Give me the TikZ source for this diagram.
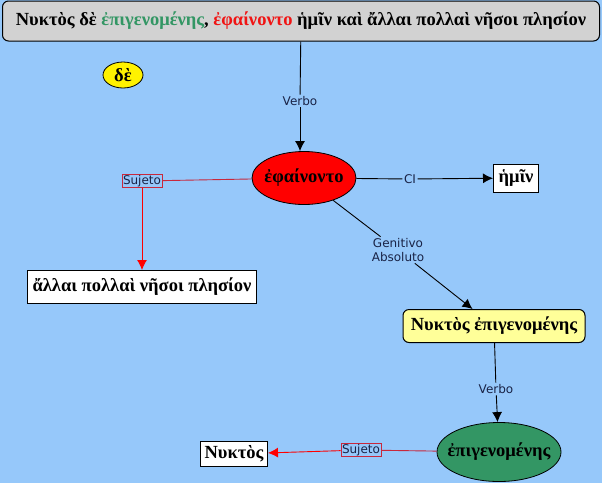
\documentclass[tikz,border=0pt]{standalone}
\usepackage{fontspec}
\setmainfont{Liberation Serif}
\newfontfamily\linkfont{DejaVu Sans}
\usetikzlibrary{arrows.meta,shapes.geometric}

\definecolor{mapblue}{RGB}{150,200,250}
\definecolor{mapgrey}{RGB}{210,210,210}
\definecolor{mapgreen}{RGB}{51,150,100}
\definecolor{mapred}{RGB}{240,20,20}
\definecolor{mapyellow}{RGB}{255,255,153}
\definecolor{linkred}{RGB}{200,40,60}
\definecolor{linkink}{RGB}{25,35,70}

\tikzset{
  greek/.style={font=\fontsize{18.5}{22}\selectfont\bfseries, inner sep=0pt, line width=1pt},
  wordbox/.style={greek, draw, fill=white},
  % negative x-sep, so that minimum width alone fixes the ellipse size
  bubble/.style={greek, ellipse, draw, line width=0.8pt, inner xsep=-14pt},
  linklabel/.style={font=\linkfont\fontsize{12}{14}\selectfont, text=linkink,
                    fill=mapblue, inner sep=1.5pt, align=center},
  sujlabel/.style={linklabel, draw=linkred, line width=0.8pt, inner sep=1pt},
  link/.style={line width=0.9pt},
  arrowlink/.style={link, -{Latex[length=10pt,width=10pt]}},
}

\begin{document}
\begin{tikzpicture}[x=1pt, y=-1pt]

% ============================================================ background
\fill[mapblue] (0,0) rectangle (602,483);
\useasboundingbox (0,0) rectangle (602,483);

% ============================================================ the sentence
\node[greek, draw, fill=mapgrey, rounded corners=6pt,
      minimum width=597pt, minimum height=40pt] (sent) at (301,21)
  {Νυκτὸς δὲ \textcolor{mapgreen}{ἐπιγενομένης}, \textcolor{mapred}{ἐφαίνοντο}
   ἡμῖν καὶ ἄλλαι πολλαὶ νῆσοι πλησίον};

\node[bubble, fill=yellow, minimum width=40pt, minimum height=26pt] (de)
  at (123,75) {δὲ};

% ============================================================ main verb
\node[bubble, fill=red, minimum width=104pt, minimum height=53pt] (ephain)
  at (304,178) {ἐφαίνοντο};

\node[linklabel] (verbo1) at (300,101) {Verbo};
\draw[link] (sent) -- (verbo1);
\draw[arrowlink] (verbo1) -- (verbo1 |- ephain.north);

% subject, to the left
\node[sujlabel] (suj1) at (142,181) {Sujeto};
\node[wordbox, minimum width=229pt, minimum height=33pt] (allai)
  at (142,287) {ἄλλαι πολλαὶ νῆσοι πλησίον};
\draw[link, linkred] (ephain) -- (suj1);
\draw[arrowlink, red] (suj1) -- (allai);

% indirect object, to the right
\node[linklabel] (ci) at (410,179) {CI};
\node[wordbox, minimum width=45pt, minimum height=28pt] (hemin)
  at (516,178) {ἡμῖν};
\draw[link] (ephain) -- (ci);
\draw[arrowlink] (ci) -- (hemin);

% ============================================================ genitive absolute
\node[linklabel] (gen) at (398,250) {Genitivo\\Absoluto};
\node[greek, draw, fill=mapyellow, rounded corners=6pt,
      minimum width=182pt, minimum height=33pt] (nyktepi)
  at (494,326) {Νυκτὸς ἐπιγενομένης};
\draw[link] (ephain) -- (gen);
\draw[arrowlink] (gen) -- (nyktepi);

\node[linklabel] (verbo2) at (496,389) {Verbo};
\node[bubble, fill=mapgreen, minimum width=124pt, minimum height=59pt] (epig)
  at (499,452) {ἐπιγενομένης};
\draw[link] (nyktepi) -- (verbo2);
\draw[arrowlink] (verbo2) -- (epig);

\node[sujlabel] (suj2) at (361,450) {Sujeto};
\node[wordbox, minimum width=67pt, minimum height=25pt] (nyktos)
  at (234,454) {Νυκτὸς};
\draw[link, linkred] (epig) -- (suj2);
\draw[arrowlink, red] (suj2) -- (nyktos);

\end{tikzpicture}
\end{document}
